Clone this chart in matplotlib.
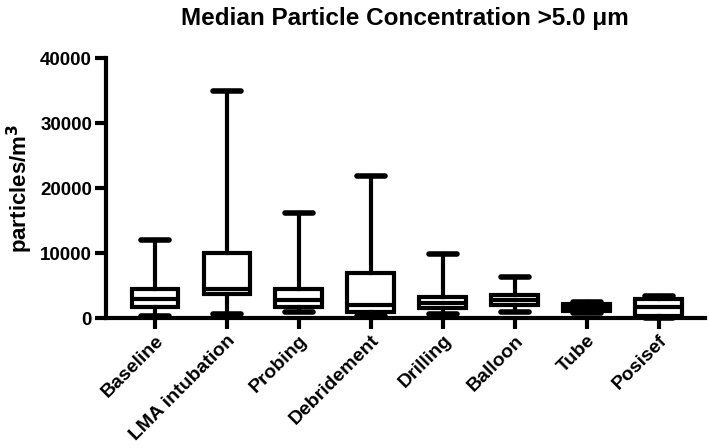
import matplotlib
matplotlib.use("Agg")
import matplotlib.pyplot as plt

# data (particles/m3)
categories = ["Baseline", "LMA intubation", "Probing", "Debridement",
              "Drilling", "Balloon", "Tube", "Posisef"]
whisk_lo = [300, 600, 950, 300, 650, 950, 800, 0]
q1 = [1700, 3700, 1750, 900, 1500, 2000, 1100, 350]
med = [2950, 4400, 2850, 2000, 2300, 2850, 1600, 1700]
q3 = [4450, 10000, 4500, 7000, 3300, 3500, 2100, 2900]
whisk_hi = [12000, 35000, 16200, 21900, 9850, 6250, 2450, 3350]

yticks = [0, 10000, 20000, 30000, 40000]

plt.rcParams['font.family'] = ['Liberation Sans', 'DejaVu Sans']
plt.rcParams['font.weight'] = 'bold'

fig = plt.figure(figsize=(7.09, 4.48), dpi=100)
ax = fig.add_axes([0.1495, 0.29, 0.8445, 0.5805])

stats = []
for i in range(len(categories)):
    stats.append({"label": categories[i], "whislo": whisk_lo[i], "q1": q1[i],
                  "med": med[i], "q3": q3[i], "whishi": whisk_hi[i]})

lw = 3.0
pos = list(range(1, len(categories) + 1))
bp = ax.bxp(stats, positions=pos, widths=0.65, showfliers=False,
            patch_artist=True, manage_ticks=False,
            boxprops=dict(facecolor='white', edgecolor='black', linewidth=lw),
            medianprops=dict(color='black', linewidth=lw, solid_capstyle='butt'),
            whiskerprops=dict(color='black', linewidth=lw),
            capprops=dict(color='black', linewidth=lw + 1, solid_capstyle='round'),
            capwidths=0.39)
for k in ['boxes', 'medians', 'whiskers', 'caps']:
    for a in bp[k]:
        a.set_clip_on(False)

ax.set_xlim(0.32, 8.64)
ax.set_ylim(0, 40000)
ax.set_xticks(pos)
ax.set_xticklabels(categories, rotation=45, ha='right', rotation_mode='anchor',
                   fontsize=14, fontweight='bold')
ax.set_yticks(yticks)
ax.set_yticklabels([str(v) for v in yticks], fontsize=13.5, fontweight='bold')
ax.tick_params(axis='both', direction='out', length=8, width=3, pad=2)

for s in ['top', 'right']:
    ax.spines[s].set_visible(False)
for s in ['left', 'bottom']:
    ax.spines[s].set_linewidth(3)

ax.set_ylabel("particles/m$^3$", fontsize=16, fontweight='bold', labelpad=4)
ax.set_title("Median Particle Concentration >5.0 \u03bcm", fontsize=17.5,
             fontweight='bold', pad=24)

fig.savefig("out.png", dpi=100)
